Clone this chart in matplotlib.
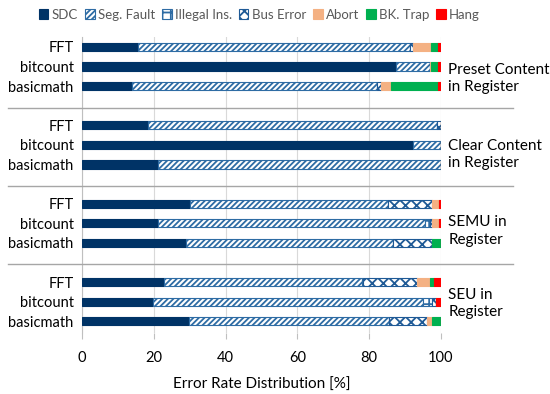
import matplotlib
matplotlib.use("Agg")
import matplotlib.pyplot as plt
import numpy as np

plt.rcParams['font.family'] = ['Lato', 'DejaVu Sans']
plt.rcParams['hatch.linewidth'] = 1.3

benchmarks = ['FFT', 'bitcount', 'basicmath']
groups = ['Preset Content\nin Register', 'Clear Content\nin Register',
          'SEMU in\nRegister', 'SEU in\nRegister']
categories = ['SDC', 'Seg. Fault', 'Illegal Ins.', 'Bus Error', 'Abort', 'BK. Trap', 'Hang']

# rows: group by group, FFT / bitcount / basicmath
sdc      = [15.6, 87.5, 14.0, 18.4, 92.3, 21.2, 30.1, 21.3, 28.9, 22.8, 19.9, 29.8]
seg      = [75.8,  9.4, 68.2, 80.4,  7.7, 78.8, 55.2, 74.2, 57.8, 55.1, 75.0, 55.8]
illegal  = [ 0.0,  0.0,  0.0,  0.0,  0.0,  0.0,  0.0,  1.4,  0.0,  0.5,  2.5,  0.0]
bus      = [ 0.8,  0.0,  1.0,  1.2,  0.0,  0.0, 12.3,  0.7, 10.9, 15.0,  1.2, 10.4]
abort    = [ 4.9,  0.2,  2.8,  0.0,  0.0,  0.0,  1.8,  1.8,  0.0,  3.5,  0.0,  1.4]
bktrap   = [ 2.2,  2.2, 13.1,  0.0,  0.0,  0.0,  0.0,  0.0,  2.4,  1.2,  0.0,  2.6]
hang     = [ 0.7,  0.7,  0.9,  0.0,  0.0,  0.0,  0.6,  0.6,  0.0,  1.9,  1.4,  0.0]

series = [sdc, seg, illegal, bus, abort, bktrap, hang]
styles = [
    dict(facecolor='#003366', edgecolor='#003366', hatch=None),
    dict(facecolor='white', edgecolor='#2e6ca4', hatch='//////'),
    dict(facecolor='white', edgecolor='#2e6ca4', hatch='++'),
    dict(facecolor='white', edgecolor='#1f5a96', hatch='xxx'),
    dict(facecolor='#f4b183', edgecolor='#f4b183', hatch=None),
    dict(facecolor='#00b050', edgecolor='#00b050', hatch=None),
    dict(facecolor='#ff0000', edgecolor='#ff0000', hatch=None),
]

fig = plt.figure(figsize=(5.5, 3.94), dpi=100)
ax = fig.add_axes([82/550, 1-333/394, (441-82)/550, (333-37)/394])

ypos = []
for g in range(len(groups)):
    for r in range(len(benchmarks)):
        ypos.append(4*g + r)
ypos = np.array(ypos, dtype=float)

left = np.zeros(len(ypos))
handles = []
for vals, st, name in zip(series, styles, categories):
    vals = np.array(vals)
    b = ax.barh(ypos, vals, left=left, height=0.42, facecolor=st['facecolor'],
                edgecolor=st['edgecolor'], hatch=st['hatch'], linewidth=0.8,
                label=name, zorder=3)
    left += vals
    handles.append(b)

ax.set_xlim(0, 100)
ax.set_ylim(14.6, -0.5)
ax.set_xticks(np.arange(0, 101, 20))
ax.set_yticks(ypos)
ax.set_yticklabels(benchmarks * len(groups), fontsize=10.5, color='#000000')
ax.tick_params(axis='y', length=0, pad=6)
ax.tick_params(axis='x', length=4, color='#bfbfbf', labelsize=10.5, pad=9)
ax.xaxis.grid(True, color='#d9d9d9', linewidth=0.8, zorder=0)
for s in ['top', 'right', 'bottom']:
    ax.spines[s].set_visible(False)
ax.spines['left'].set_color('#bfbfbf')
ax.set_xlabel('Error Rate Distribution [%]', fontsize=11, labelpad=9)

# group separators and labels
label_offsets = [1.6, 1.5, 1.4, 1.1]
for g in range(len(groups)):
    if g > 0:
        ysep = 4*g - 0.9
        ax.plot([-20.5, 120], [ysep, ysep], color='#a6a6a6', linewidth=1.0,
                clip_on=False, zorder=4)
    ax.text(102, 4*g + label_offsets[g], groups[g], fontsize=11, va='center',
            ha='left', linespacing=1.3, clip_on=False)

fig.legend(handles=handles, labels=categories, loc='upper left',
           bbox_to_anchor=(30/550, 1.0), ncol=7, frameon=False,
           fontsize=9.5, handlelength=0.75, handleheight=0.75, handletextpad=0.25,
           columnspacing=0.5, labelcolor='#595959', borderaxespad=0.25)

fig.savefig('out.png', dpi=100)
